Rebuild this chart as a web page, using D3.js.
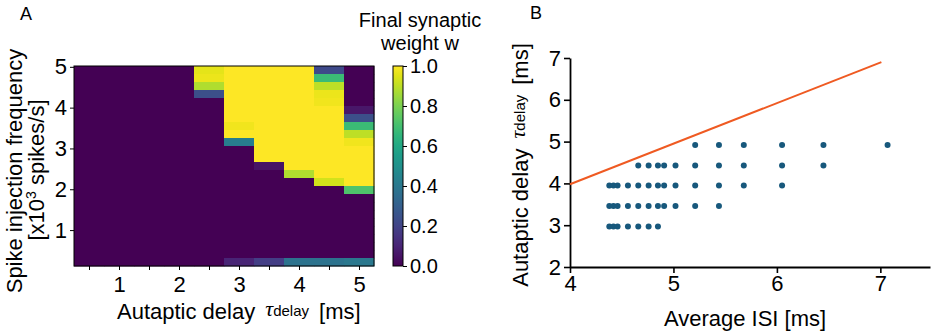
<!doctype html>
<html>
  <head>
    <meta charset="utf-8">
    <title>Autaptic delay</title>
    <script src="https://cdn.jsdelivr.net/npm/d3@7"></script>
    <style>
      body { margin: 0; background: #fff; }
      text { font-family: "Liberation Sans", Arial, sans-serif; fill: #000; }
    </style>
  </head>
  <body>
    <script>
      const svgWidth = 935;
      const svgHeight = 333;

      // 面板A：自突触延迟 (ms)
      const tauDelays = [0.5, 1, 1.5, 2, 2.5, 3, 3.5, 4, 4.5, 5];
      // 面板A：注入频率 (x10^3 spikes/s)，从上到下
      const frequencies = [5.0, 4.8, 4.6, 4.4, 4.2, 4.0, 3.8, 3.6, 3.4, 3.2, 3.0, 2.8, 2.6,
                           2.4, 2.2, 2.0, 1.8, 1.6, 1.4, 1.2, 1.0, 0.8, 0.6, 0.4, 0.2];
      // 最终突触权重 w，每行对应一个频率
      const weights = [
        [0, 0, 0, 0, 0.96, 1, 1, 1, 0.22, 0],
        [0, 0, 0, 0, 0.97, 1, 1, 1, 0.68, 0],
        [0, 0, 0, 0, 0.88, 1, 1, 1, 0.90, 0],
        [0, 0, 0, 0, 0.24, 1, 1, 1, 0.97, 0],
        [0, 0, 0, 0, 0, 1, 1, 1, 0.98, 0],
        [0, 0, 0, 0, 0, 1, 1, 1, 1, 0.06],
        [0, 0, 0, 0, 0, 1, 1, 1, 1, 0.24],
        [0, 0, 0, 0, 0, 0.98, 1, 1, 1, 0.68],
        [0, 0, 0, 0, 0, 1, 1, 1, 1, 0.90],
        [0, 0, 0, 0, 0, 0.42, 1, 1, 1, 0.98],
        [0, 0, 0, 0, 0, 0, 1, 1, 1, 1],
        [0, 0, 0, 0, 0, 0, 1, 1, 1, 1],
        [0, 0, 0, 0, 0, 0, 0.05, 1, 1, 1],
        [0, 0, 0, 0, 0, 0, 0, 0.88, 1, 1],
        [0, 0, 0, 0, 0, 0, 0, 0, 0.93, 1],
        [0, 0, 0, 0, 0, 0, 0, 0, 0, 0.72],
        [0, 0, 0, 0, 0, 0, 0, 0, 0, 0],
        [0, 0, 0, 0, 0, 0, 0, 0, 0, 0],
        [0, 0, 0, 0, 0, 0, 0, 0, 0, 0],
        [0, 0, 0, 0, 0, 0, 0, 0, 0, 0],
        [0, 0, 0, 0, 0, 0, 0, 0, 0, 0],
        [0, 0, 0, 0, 0, 0, 0, 0, 0, 0],
        [0, 0, 0, 0, 0, 0, 0, 0, 0, 0],
        [0, 0, 0, 0, 0, 0, 0, 0, 0, 0],
        [0, 0, 0, 0, 0, 0.10, 0.18, 0.38, 0.38, 0.40]
      ];
      const freqTicks = [1, 2, 3, 4, 5];
      const weightTicks = [0, 0.2, 0.4, 0.6, 0.8, 1.0];

      // 面板B：散点 (每个延迟等级对应一组平均ISI)
      const tauLevels = [4.92, 4.43, 3.95, 3.46, 2.97];
      const isiByLevel = [
        [5.21, 5.44, 5.68, 6.05, 6.45, 7.07],
        [4.66, 4.76, 4.85, 4.91, 5.02, 5.21, 5.44, 5.68, 6.05, 6.45],
        [4.38, 4.42, 4.46, 4.56, 4.66, 4.76, 4.85, 4.91, 5.02, 5.21, 5.44, 5.68, 6.05],
        [4.38, 4.42, 4.46, 4.56, 4.66, 4.76, 4.85, 4.91, 5.02, 5.21, 5.44],
        [4.38, 4.42, 4.46, 4.56, 4.66, 4.76, 4.85]
      ];
      // 边界线
      const lineIsi = [4, 7.01];
      const lineTau = [3.98, 6.9];
      const isiTicks = [4, 5, 6, 7];
      const tauTicks = [2, 3, 4, 5, 6, 7];

      const svg = d3.select('body').append('svg')
          .attr('width', svgWidth)
          .attr('height', svgHeight);

      // ---------- 面板A ----------
      const xA = d3.scaleLinear().domain([0.25, 5.25]).range([74, 374]);
      const yA = d3.scaleLinear().domain([0.12, 5.02]).range([266, 66]);
      const rowBand = d3.scaleBand().domain(frequencies).range([66, 266]);
      const color = d3.interpolateViridis;
      const cellW = xA(0.5) - xA(0);

      const cells = [];
      weights.forEach((row, i) => row.forEach((w, j) => {
        cells.push({ f: frequencies[i], tau: tauDelays[j], w: w });
      }));

      svg.append('g')
        .selectAll('rect')
        .data(cells)
        .enter().append('rect')
          .attr('x', d => xA(d.tau - 0.25))
          .attr('y', d => rowBand(d.f))
          .attr('width', cellW + 0.4)
          .attr('height', rowBand.bandwidth() + 0.4)
          .attr('fill', d => color(d.w));

      svg.append('rect')
        .attr('x', 74).attr('y', 66)
        .attr('width', 300).attr('height', 200)
        .attr('fill', 'none')
        .attr('stroke', '#000')
        .attr('stroke-width', 1);

      const axA = svg.append('g')
        .attr('transform', 'translate(0,266)')
        .call(d3.axisBottom(xA).tickValues(tauDelays).tickSize(4).tickPadding(6)
          .tickFormat(d => Number.isInteger(d) ? d : ''));
      const ayA = svg.append('g')
        .attr('transform', 'translate(74,0)')
        .call(d3.axisLeft(yA).tickValues(freqTicks).tickSize(4).tickPadding(3).tickFormat(d3.format('d')));
      [axA, ayA].forEach(g => {
        g.select('.domain').remove();
        g.selectAll('text').style('font-size', '22px').attr('fill', '#000');
      });

      // 色条
      const defs = svg.append('defs');
      const grad = defs.append('linearGradient')
        .attr('id', 'viridis')
        .attr('x1', 0).attr('y1', 1).attr('x2', 0).attr('y2', 0);
      d3.range(0, 1.0001, 0.05).forEach(t => {
        grad.append('stop').attr('offset', t).attr('stop-color', color(t));
      });
      const cb = d3.scaleLinear().domain([0, 1]).range([266, 66]);
      svg.append('rect')
        .attr('x', 393).attr('y', cb(1))
        .attr('width', 10).attr('height', cb(0) - cb(1))
        .attr('fill', 'url(#viridis)')
        .attr('stroke', '#000')
        .attr('stroke-width', 1);
      const acb = svg.append('g')
        .attr('transform', 'translate(403,0)')
        .call(d3.axisRight(cb).tickValues(weightTicks).tickSize(4).tickPadding(3).tickFormat(d3.format('.1f')));
      acb.select('.domain').remove();
      acb.selectAll('text').style('font-size', '20px').attr('fill', '#000');

      svg.append('text')
        .attr('x', 420).attr('y', 27)
        .attr('text-anchor', 'middle')
        .style('font-size', '20px')
        .text('Final synaptic');
      svg.append('text')
        .attr('x', 420).attr('y', 50)
        .attr('text-anchor', 'middle')
        .style('font-size', '20px')
        .text('weight w');

      // 坐标轴标题
      const xLabA = svg.append('text')
        .attr('x', 117).attr('y', 319)
        .style('font-size', '22px');
      xLabA.append('tspan').text('Autaptic delay ');
      xLabA.append('tspan').attr('dx', 4)
        .style('font-family', '"Liberation Serif", serif').style('font-style', 'italic')
        .attr('dy', -3).text('τ');
      xLabA.append('tspan').style('font-size', '15px').text('delay');
      xLabA.append('tspan').attr('dy', 3).attr('dx', 10).text('[ms]');

      svg.append('text')
        .attr('transform', 'translate(22,171) rotate(-90)')
        .attr('text-anchor', 'middle')
        .style('font-size', '22px')
        .text('Spike injection frequency');
      const yLab2 = svg.append('text')
        .attr('transform', 'translate(44,170) rotate(-90)')
        .attr('text-anchor', 'middle')
        .style('font-size', '22px');
      yLab2.append('tspan').text('[x10');
      yLab2.append('tspan').style('font-size', '14px').attr('dy', -8).text('3');
      yLab2.append('tspan').attr('dy', 8).text(' spikes/s]');

      svg.append('text').attr('x', 20).attr('y', 20).style('font-size', '18px').text('A');

      // ---------- 面板B ----------
      const xB = d3.scaleLinear().domain([4, 7.48]).range([570, 930]);
      const yB = d3.scaleLinear().domain([2, 7]).range([267, 58]);

      const axB = svg.append('g')
        .attr('transform', 'translate(0,267)')
        .call(d3.axisBottom(xB).tickValues(isiTicks).tickSize(6).tickSizeOuter(0).tickPadding(2)
          .tickFormat(d3.format('d')));
      const ayB = svg.append('g')
        .attr('transform', 'translate(570,0)')
        .call(d3.axisLeft(yB).tickValues(tauTicks).tickSize(6).tickSizeOuter(0).tickPadding(3)
          .tickFormat(d3.format('d')));
      [axB, ayB].forEach(g => {
        g.select('.domain').attr('stroke-width', 1.8);
        g.selectAll('line').attr('stroke-width', 1.6);
        g.selectAll('text').style('font-size', '22px').attr('fill', '#000');
      });

      const line = d3.line()
        .x(d => xB(d[0]))
        .y(d => yB(d[1]));
      svg.append('path')
        .datum(lineIsi.map((v, i) => [v, lineTau[i]]))
        .attr('d', line)
        .attr('fill', 'none')
        .attr('stroke', '#ef5a22')
        .attr('stroke-width', 2);

      const points = [];
      tauLevels.forEach((t, i) => isiByLevel[i].forEach(v => points.push([v, t])));
      svg.append('g')
        .selectAll('circle')
        .data(points)
        .enter().append('circle')
          .attr('cx', d => xB(d[0]))
          .attr('cy', d => yB(d[1]))
          .attr('r', 3)
          .attr('fill', '#17587c');

      svg.append('text')
        .attr('x', 745).attr('y', 326)
        .attr('text-anchor', 'middle')
        .style('font-size', '22px')
        .text('Average ISI [ms]');

      const yLabB = svg.append('text')
        .attr('transform', 'translate(528,165) rotate(-90)')
        .attr('text-anchor', 'middle')
        .style('font-size', '22px');
      yLabB.append('tspan').text('Autaptic delay ');
      yLabB.append('tspan').attr('dx', 4)
        .style('font-family', '"Liberation Serif", serif').style('font-style', 'italic')
        .attr('dy', -3).text('τ');
      yLabB.append('tspan').style('font-size', '15px').text('delay');
      yLabB.append('tspan').attr('dy', 3).attr('dx', 10).text('[ms]');

      svg.append('text').attr('x', 530).attr('y', 19).style('font-size', '18px').text('B');
    </script>
  </body>
</html>
